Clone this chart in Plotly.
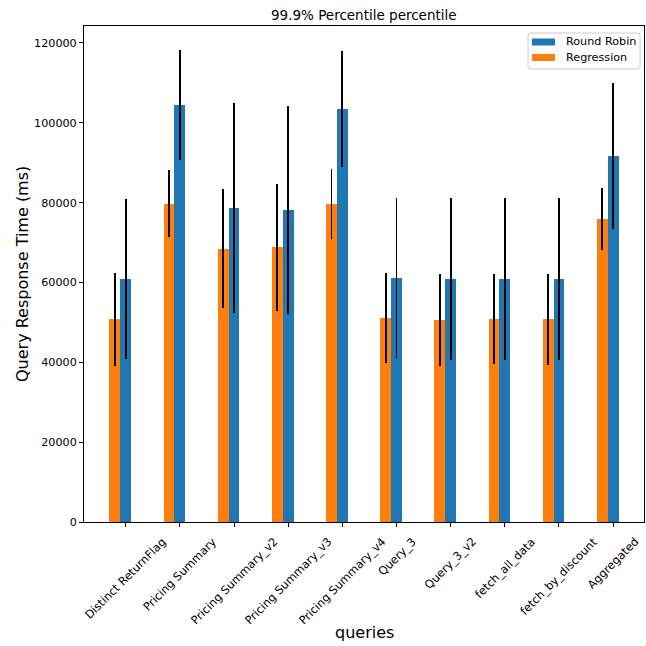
import plotly.graph_objects as go

# Query names and 99.9th percentile response times (ms)
queries = [
    "Distinct ReturnFlag", "Pricing Summary", "Pricing Summary_v2",
    "Pricing Summary_v3", "Pricing Summary_v4", "Query_3", "Query_3_v2",
    "fetch_all_data", "fetch_by_discount", "Aggregated",
]
round_robin = [60900, 104500, 78700, 78200, 103500, 61100, 60900, 60900, 60900, 91700]
round_robin_err = [20100, 13700, 26300, 26100, 14600, 20000, 20200, 20200, 20300, 18200]
regression = [50800, 79700, 68500, 68800, 79700, 51100, 50600, 50800, 50800, 75900]
regression_err = [11600, 8400, 14900, 15900, 8700, 11200, 11500, 11300, 11400, 7800]
y_ticks = [0, 20000, 40000, 60000, 80000, 100000, 120000]
series_names = ["Round Robin", "Regression"]

BLUE = "#1f77b4"
ORANGE = "#ff7f0e"
BAR_W = 0.2
FONT = "DejaVu Sans"

idx = list(range(len(queries)))

fig = go.Figure()
fig.add_trace(go.Bar(
    x=idx, y=round_robin, width=BAR_W, name=series_names[0],
    marker=dict(color=BLUE, line=dict(width=0)),
    error_y=dict(type="data", array=round_robin_err, color="black",
                 thickness=1.8, width=0),
))
fig.add_trace(go.Bar(
    x=[i - BAR_W for i in idx], y=regression, width=BAR_W, name=series_names[1],
    marker=dict(color=ORANGE, line=dict(width=0)),
    error_y=dict(type="data", array=regression_err, color="black",
                 thickness=1.8, width=0),
))

W = H = 646
L, R, T, B = 84, 2, 26, 124
pw, ph = W - L - R, H - T - B


def px(x):
    """pixel column -> paper x"""
    return (x - L) / pw


def py(y):
    """pixel row -> paper y"""
    return (H - B - y) / ph


annotations = []
# rotated category labels, centred under each tick
for i, q in enumerate(queries):
    annotations.append(dict(
        x=i, xref="x", y=py(532), yref="paper", text=q, showarrow=False,
        textangle=-45, xanchor="center", yanchor="top",
        font=dict(family=FONT, size=11.4, color="black"),
    ))
annotations += [
    dict(x=0.5, xref="paper", y=py(15), yref="paper",
         text="99.9% Percentile percentile", showarrow=False,
         xanchor="center", yanchor="middle",
         font=dict(family=FONT, size=13.5, color="black")),
    dict(x=px(22), xref="paper", y=0.5, yref="paper",
         text="Query Response Time (ms)", showarrow=False, textangle=-90,
         xanchor="center", yanchor="middle",
         font=dict(family=FONT, size=16, color="black")),
    dict(x=0.5, xref="paper", y=py(632), yref="paper",
         text="queries", showarrow=False, xanchor="center", yanchor="middle",
         font=dict(family=FONT, size=16, color="black")),
]

# legend box with rounded corners
x0, x1, y0, y1, r = 528, 640, 33, 69, 3
path = (
    f"M {px(x0 + r)} {py(y0)} L {px(x1 - r)} {py(y0)} "
    f"Q {px(x1)} {py(y0)} {px(x1)} {py(y0 + r)} "
    f"L {px(x1)} {py(y1 - r)} Q {px(x1)} {py(y1)} {px(x1 - r)} {py(y1)} "
    f"L {px(x0 + r)} {py(y1)} Q {px(x0)} {py(y1)} {px(x0)} {py(y1 - r)} "
    f"L {px(x0)} {py(y0 + r)} Q {px(x0)} {py(y0)} {px(x0 + r)} {py(y0)} Z"
)
shapes = [dict(type="path", xref="paper", yref="paper", path=path,
               fillcolor="rgba(255,255,255,0.8)",
               line=dict(color="#cccccc", width=1), layer="above")]
for k, (name, col) in enumerate(zip(series_names, [BLUE, ORANGE])):
    cy = 42 + k * 15.5
    shapes.append(dict(type="rect", xref="paper", yref="paper",
                       x0=px(532), x1=px(555), y0=py(cy - 3.5), y1=py(cy + 3.5),
                       fillcolor=col, line=dict(width=0), layer="above"))
    annotations.append(dict(x=px(564), xref="paper", y=py(cy), yref="paper",
                            text=name, showarrow=False, xanchor="left",
                            yanchor="middle",
                            font=dict(family=FONT, size=11.2, color="black")))

fig.update_layout(
    width=W, height=H,
    margin=dict(l=L, r=R, t=T, b=B, pad=0),
    paper_bgcolor="white", plot_bgcolor="white",
    barmode="overlay", bargap=0,
    showlegend=False,
    annotations=annotations, shapes=shapes,
    font=dict(family=FONT, color="black"),
)
fig.update_xaxes(
    range=[-0.77, 9.57], tickvals=idx, ticktext=[""] * len(idx),
    ticks="outside", ticklen=4, tickcolor="black", showgrid=False,
    zeroline=False, showline=True, linecolor="black", linewidth=1, mirror=True,
)
fig.update_yaxes(
    range=[0, 124250], tickvals=y_ticks, ticktext=[str(v) for v in y_ticks],
    ticks="outside", ticklen=4, tickcolor="black", showgrid=False,
    zeroline=False, showline=True, linecolor="black", linewidth=1, mirror=True,
    tickfont=dict(family=FONT, size=11.2, color="black"),
)

fig.write_html("out.html")
